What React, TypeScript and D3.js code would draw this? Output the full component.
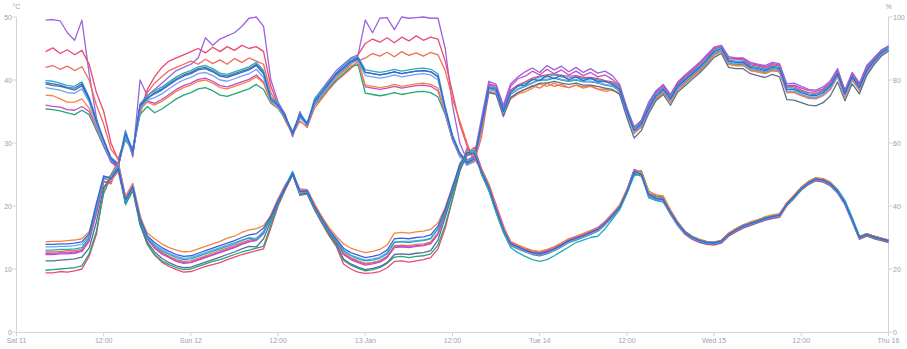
import React from 'react';
import * as d3 from 'd3';

// hourly samples from Sat 11 Jan 2020 04:00 to Thu 16 Jan 2020 00:00
const sampleCount = 117;
const firstSampleHour = 4;

const sensorNames = ['purple', 'pink', 'coral', 'green', 'magenta', 'orange', 'slate', 'lightblue', 'teal', 'blue'];
const sensorColors = ['#9d62df', '#ea4a6f', '#f26a5a', '#26a57a', '#c54ac9', '#f5853f', '#56718f', '#6aa6ee', '#1fb0b8', '#3a62e0'];

const xTickLabels = ['Sat 11', '12:00', 'Sun 12', '12:00', '13 Jan', '12:00', 'Tue 14', '12:00', 'Wed 15', '12:00', 'Thu 16'];
const leftTicks = [0, 10, 20, 30, 40, 50];
const rightTicks = [0, 20, 40, 60, 80, 100];

// Temperature (°C)
const tempBlue = [
  13.9, 13.9, 14.0, 14.0, 14.1, 14.3, 15.6, 20.5, 24.8, 24.3, 26.0, 21.0, 23.0, 18.0, 15.3,
  14.2, 13.4, 12.8, 12.3, 12.0, 12.1, 12.5, 12.9, 13.3, 13.7, 14.1, 14.5, 15.0, 15.4, 15.6, 16.5,
  18.3, 20.8, 23.0, 25.2, 22.3, 22.4, 20.0, 18.0, 16.2, 14.8, 13.3, 12.6, 12.2,
  11.8, 12.0, 12.3, 13.0, 14.8, 14.9, 14.8, 15.0, 15.1, 15.4, 16.8, 19.5, 23.0, 26.5, 28.5, 28.3, 25.5,
  23.0, 19.5, 16.3, 14.0, 13.5, 13.0, 12.6, 12.4, 12.7, 13.2, 13.8, 14.5, 14.9, 15.3, 15.8, 16.3, 17.3, 18.5, 19.8, 22.3, 25.5, 25.0, 21.8, 21.2, 21.0, 19.0, 17.2, 15.8,
  15.0, 14.5, 14.2, 14.1, 14.4, 15.5, 16.2, 16.8, 17.2, 17.6, 18.0, 18.3, 18.5, 20.3, 21.5, 22.8, 23.7, 24.3, 24.1, 23.5, 22.3, 20.5, 17.8, 15.0, 15.5, 15.1, 14.8, 14.5,
];
const tempOrange = [
  14.3, 14.4, 14.4, 14.5, 14.6, 14.8, 15.9, 20.0, 24.5, 24.0, 25.6, 21.3, 23.4, 18.3, 15.7,
  14.8, 14.0, 13.4, 13.0, 12.7, 12.8, 13.2, 13.6, 14.0, 14.4, 14.9, 15.2, 15.8, 16.2, 16.4, 16.9,
  18.5, 20.6, 22.8, 25.0, 22.6, 22.2, 20.3, 18.4, 16.6, 15.2, 14.0, 13.3, 12.9,
  12.6, 12.8, 13.1, 13.8, 15.7, 15.8, 15.7, 15.9, 16.0, 16.3, 17.3, 19.8, 23.2, 26.3, 28.8, 28.0, 25.8,
  23.4, 19.8, 16.6, 14.4, 13.8, 13.3, 12.9, 12.8, 13.1, 13.5, 14.1, 14.8, 15.2, 15.6, 16.1, 16.5, 17.5, 18.8, 20.2, 22.6, 25.2, 25.4, 22.3, 21.8, 21.6, 19.4, 17.5, 16.0,
  15.2, 14.7, 14.3, 14.2, 14.5, 15.7, 16.4, 17.0, 17.5, 17.8, 18.3, 18.6, 18.8, 20.5, 21.7, 23.0, 23.9, 24.4, 24.4, 23.8, 22.6, 20.8, 18.0, 15.2, 15.6, 15.2, 14.9, 14.6,
];
const tempLightBlue = [
  13.5, 13.5, 13.6, 13.6, 13.7, 13.9, 15.3, 20.2, 24.5, 24.6, 26.3, 20.8, 22.8, 18.0, 15.1,
  13.9, 13.1, 12.5, 12.0, 11.7, 11.8, 12.2, 12.6, 13.0, 13.4, 13.8, 14.2, 14.6, 15.0, 14.8, 16.0,
  18.2, 20.9, 23.2, 25.4, 22.0, 22.5, 19.8, 17.8, 16.0, 14.6, 13.0, 12.2, 11.8,
  11.4, 11.6, 11.9, 12.6, 14.3, 14.4, 14.4, 14.5, 14.6, 14.9, 16.4, 19.2, 22.8, 26.6, 28.3, 28.6, 25.3,
  22.8, 19.3, 16.1, 13.8, 13.3, 12.8, 12.4, 12.2, 12.5, 13.0, 13.6, 14.3, 14.7, 15.1, 15.6, 16.1, 17.1, 18.3, 19.6, 22.1, 25.6, 24.8, 21.6, 21.0, 20.8, 18.8, 17.0, 15.7,
  14.9, 14.4, 14.1, 14.0, 14.3, 15.4, 16.1, 16.7, 17.1, 17.5, 17.9, 18.2, 18.4, 20.1, 21.4, 22.7, 23.6, 24.2, 24.0, 23.4, 22.1, 20.3, 17.6, 14.9, 15.4, 15.0, 14.7, 14.4,
];
const tempTeal = [
  13.0, 13.0, 13.1, 13.1, 13.2, 13.4, 15.0, 19.8, 24.3, 24.8, 26.5, 20.6, 23.2, 17.8, 15.0,
  13.7, 12.9, 12.3, 11.8, 11.5, 11.6, 12.0, 12.4, 12.8, 13.2, 13.6, 14.0, 14.5, 14.9, 14.6, 15.8,
  18.0, 20.7, 23.1, 25.5, 22.4, 22.1, 19.9, 17.9, 16.1, 14.6, 12.9, 12.1, 11.6,
  11.3, 11.4, 11.7, 12.4, 14.2, 14.3, 14.2, 14.4, 14.5, 14.8, 16.3, 19.1, 22.6, 26.2, 28.4, 28.9, 25.2,
  22.6, 19.0, 15.8, 13.4, 12.6, 12.0, 11.5, 11.2, 11.5, 12.1, 12.8, 13.5, 14.2, 14.6, 15.0, 15.2, 16.4, 17.9, 19.4, 22.0, 24.8, 25.1, 21.3, 20.9, 20.6, 18.9, 17.3, 15.9,
  15.1, 14.6, 14.3, 14.2, 14.5, 15.4, 16.2, 16.9, 17.3, 17.7, 18.1, 18.4, 18.6, 20.2, 21.3, 22.6, 23.5, 24.1, 24.2, 23.6, 22.6, 20.9, 18.2, 15.2, 15.4, 15.0, 14.7, 14.4,
];
const tempCoral = [
  12.7, 12.7, 12.8, 12.9, 12.9, 13.1, 14.8, 19.0, 24.0, 23.5, 26.8, 21.5, 23.6, 18.6, 14.8,
  13.5, 12.7, 12.0, 11.5, 11.2, 11.3, 11.7, 12.1, 12.5, 12.9, 13.3, 13.7, 14.2, 14.6, 14.9, 15.9,
  18.6, 21.2, 23.4, 25.0, 22.7, 22.6, 20.4, 18.2, 16.3, 14.6, 12.6, 11.8, 11.3,
  10.9, 11.0, 11.3, 11.9, 13.7, 13.8, 13.7, 13.9, 14.0, 14.3, 15.7, 18.8, 22.7, 26.8, 28.2, 28.0, 25.9,
  23.3, 19.9, 16.6, 14.2, 13.6, 13.1, 12.7, 12.5, 12.8, 13.3, 13.9, 14.6, 15.0, 15.4, 15.9, 16.4, 17.4, 18.6, 20.0, 22.6, 25.7, 25.3, 22.0, 21.5, 21.3, 19.3, 17.4, 16.0,
  15.2, 14.7, 14.4, 14.3, 14.6, 15.7, 16.4, 17.0, 17.4, 17.8, 18.2, 18.5, 18.7, 20.5, 21.7, 23.0, 23.9, 24.5, 24.3, 23.7, 22.5, 20.6, 17.9, 15.1, 15.6, 15.2, 14.9, 14.6,
];
const tempPurple = [
  12.5, 12.4, 12.6, 12.6, 12.7, 12.9, 14.6, 19.5, 24.4, 24.0, 25.5, 20.4, 23.0, 17.6, 14.9,
  13.4, 12.5, 11.9, 11.3, 11.0, 11.1, 11.5, 11.9, 12.3, 12.7, 13.1, 13.5, 14.0, 14.4, 14.6, 15.8,
  18.1, 20.6, 22.9, 25.3, 22.0, 22.3, 19.8, 17.7, 15.9, 14.4, 12.4, 11.7, 11.2,
  10.8, 11.0, 11.3, 12.0, 13.5, 13.6, 13.5, 13.7, 13.8, 14.1, 15.6, 18.9, 22.5, 26.0, 29.2, 27.6, 25.6,
  23.1, 19.7, 16.5, 14.3, 13.7, 13.2, 12.8, 12.6, 12.9, 13.4, 14.0, 14.7, 15.1, 15.5, 16.0, 16.5, 17.5, 18.7, 20.0, 22.5, 25.7, 25.2, 22.0, 21.3, 21.1, 19.1, 17.3, 15.9,
  15.1, 14.6, 14.3, 14.2, 14.5, 15.6, 16.3, 16.9, 17.3, 17.7, 18.1, 18.4, 18.6, 20.4, 21.6, 22.9, 23.8, 24.4, 24.2, 23.6, 22.4, 20.6, 17.9, 15.1, 15.6, 15.2, 14.9, 14.6,
];
const tempMagenta = [
  12.3, 12.3, 12.4, 12.4, 12.5, 12.8, 14.4, 18.8, 23.8, 23.8, 26.2, 21.0, 22.6, 17.9, 14.8,
  13.3, 12.4, 11.8, 11.2, 10.9, 11.0, 11.4, 11.8, 12.2, 12.6, 13.0, 13.4, 13.9, 14.3, 14.5, 15.6,
  18.2, 20.9, 23.1, 25.1, 22.2, 22.5, 20.1, 17.9, 16.0, 14.5, 12.3, 11.5, 11.0,
  10.6, 10.8, 11.1, 11.8, 13.4, 13.5, 13.4, 13.6, 13.7, 14.0, 15.5, 18.7, 22.4, 26.3, 28.6, 28.4, 25.7,
  23.3, 19.8, 16.6, 14.3, 13.8, 13.3, 12.9, 12.7, 13.0, 13.5, 14.1, 14.8, 15.2, 15.6, 16.1, 16.6, 17.6, 18.8, 20.1, 22.6, 25.6, 25.1, 21.9, 21.2, 21.0, 19.0, 17.2, 15.8,
  15.0, 14.6, 14.3, 14.2, 14.4, 15.6, 16.3, 16.8, 17.3, 17.6, 18.1, 18.3, 18.6, 20.3, 21.6, 22.8, 23.8, 24.3, 24.2, 23.5, 22.3, 20.5, 17.8, 15.1, 15.5, 15.1, 14.8, 14.5,
];
const tempSlate = [
  11.3, 11.3, 11.4, 11.5, 11.6, 11.9, 13.3, 17.5, 23.0, 24.5, 25.8, 20.5, 22.7, 17.3, 14.3,
  12.7, 11.7, 11.0, 10.5, 10.2, 10.3, 10.7, 11.1, 11.5, 11.9, 12.3, 12.7, 13.2, 13.6, 13.5, 14.8,
  17.6, 20.5, 22.8, 25.0, 21.9, 22.0, 19.6, 17.6, 15.7, 14.1, 11.6, 10.8, 10.3,
  9.9, 10.1, 10.4, 11.0, 12.3, 12.4, 12.3, 12.5, 12.6, 12.9, 14.6, 18.2, 22.0, 25.8, 28.0, 28.5, 25.1,
  22.6, 19.1, 16.0, 13.7, 13.2, 12.7, 12.3, 12.1, 12.4, 12.9, 13.5, 14.2, 14.6, 15.0, 15.5, 16.0, 17.0, 18.2, 19.5, 22.0, 25.2, 24.7, 21.5, 20.9, 20.7, 18.7, 16.9, 15.6,
  14.8, 14.3, 14.0, 13.9, 14.2, 15.3, 16.0, 16.6, 17.0, 17.4, 17.8, 18.1, 18.3, 20.1, 21.3, 22.6, 23.5, 24.1, 23.9, 23.3, 22.1, 20.3, 17.6, 14.8, 15.3, 14.9, 14.6, 14.3,
];
const tempGreen = [
  9.8, 9.9, 10.0, 10.1, 10.2, 10.5, 12.4, 16.0, 22.0, 24.6, 26.4, 20.2, 22.4, 17.0, 14.0,
  12.3, 11.3, 10.7, 10.2, 9.9, 10.0, 10.4, 10.8, 11.2, 11.5, 11.9, 12.3, 12.7, 13.0, 13.3, 13.6,
  17.0, 20.3, 22.7, 25.0, 21.8, 22.0, 19.5, 17.4, 15.5, 13.8, 11.4, 10.6, 10.1,
  9.7, 9.9, 10.2, 10.9, 11.9, 12.0, 11.8, 12.0, 12.1, 12.4, 13.8, 17.0, 21.2, 25.6, 28.2, 28.7, 25.0,
  22.4, 19.0, 15.9, 13.9, 13.4, 12.9, 12.5, 12.3, 12.6, 13.1, 13.7, 14.4, 14.8, 15.2, 15.7, 16.2, 17.2, 18.4, 19.8, 22.4, 25.3, 25.6, 22.4, 21.6, 21.4, 19.2, 17.3, 15.9,
  15.1, 14.6, 14.3, 14.2, 14.5, 15.6, 16.3, 16.9, 17.3, 17.7, 18.1, 18.4, 18.6, 20.4, 21.6, 22.9, 23.8, 24.4, 24.2, 23.6, 22.4, 20.6, 17.9, 15.1, 15.6, 15.2, 14.9, 14.6,
];
const tempPink = [
  9.4, 9.4, 9.6, 9.5, 9.7, 10.0, 12.0, 15.5, 22.5, 25.0, 27.0, 21.4, 23.2, 17.2, 13.9,
  12.2, 11.1, 10.4, 9.9, 9.5, 9.6, 10.0, 10.4, 10.7, 11.0, 11.5, 11.9, 12.3, 12.6, 12.9, 13.2,
  16.5, 20.0, 22.6, 25.0, 21.7, 21.9, 19.4, 17.3, 15.3, 13.6, 10.8, 10.0, 9.5,
  9.3, 9.4, 9.6, 10.2, 11.2, 11.3, 11.1, 11.3, 11.5, 11.8, 13.2, 16.5, 21.0, 25.5, 28.4, 29.3, 25.9,
  23.5, 20.2, 16.9, 14.1, 13.6, 13.1, 12.7, 12.5, 12.8, 13.3, 13.9, 14.6, 15.0, 15.4, 15.9, 16.4, 17.4, 18.6, 19.9, 22.4, 25.8, 25.3, 21.9, 21.0, 20.8, 18.7, 16.9, 15.5,
  14.7, 14.2, 13.9, 13.8, 14.1, 15.2, 15.9, 16.5, 16.9, 17.3, 17.7, 18.0, 18.2, 20.0, 21.2, 22.5, 23.4, 24.0, 23.8, 23.2, 22.0, 20.2, 17.5, 14.7, 15.2, 14.8, 14.5, 14.2,
];

// Relative humidity (%)
const humBlue = [
  79.2, 78.8, 78.4, 77.6, 77.4, 78.8, 74.0, 67.0, 61.0, 55.0, 53.0, 63.0, 57.0, 72.0, 74.4,
  75.6, 76.8, 78.4, 80.0, 81.2, 82.0, 83.2, 83.6, 82.6, 81.2, 80.8, 81.6, 82.4, 83.2, 84.6, 82.0,
  74.0, 72.0, 68.6, 63.0, 69.0, 66.0, 73.0, 76.0, 79.0, 82.0, 84.0, 86.0, 87.0,
  82.4, 82.0, 81.6, 82.0, 82.6, 82.0, 82.4, 82.8, 83.0, 82.6, 81.2, 71.0, 62.0, 56.6, 53.6, 55.0, 66.0,
  77.6, 77.0, 70.0, 76.0, 78.2, 78.4, 80.2, 79.8, 81.4, 80.4, 81.6, 80.0, 81.0, 79.8, 80.6, 79.4, 79.6, 78.6, 77.0, 70.0, 64.0, 66.0, 71.0, 75.0, 77.0, 74.0, 78.0, 80.0,
  82.0, 84.0, 86.4, 89.0, 90.0, 86.0, 85.6, 85.6, 84.0, 83.6, 83.0, 84.0, 83.6, 77.0, 77.0, 76.0, 75.2, 75.0, 76.0, 78.0, 82.0, 75.6, 81.0, 77.6, 83.0, 86.0, 88.6, 90.0,
];
const humTeal = [
  79.8, 79.6, 79.0, 78.2, 78.0, 79.4, 74.5, 67.5, 61.0, 55.5, 53.5, 63.6, 57.6, 72.4, 75.0,
  76.6, 77.8, 79.4, 81.0, 82.2, 83.0, 84.2, 84.6, 83.6, 82.2, 81.8, 82.6, 83.4, 84.2, 85.6, 83.0,
  74.6, 72.4, 68.0, 63.6, 69.4, 66.4, 73.6, 76.6, 79.4, 82.2, 84.6, 86.6, 87.4,
  83.2, 82.8, 82.4, 82.8, 83.4, 82.8, 83.2, 83.6, 83.8, 83.4, 82.0, 71.5, 62.5, 57.0, 54.0, 55.6, 66.4,
  78.0, 77.4, 70.6, 76.4, 78.0, 79.0, 80.0, 81.0, 81.0, 81.6, 81.0, 80.6, 81.0, 80.4, 80.4, 80.0, 79.4, 79.0, 77.4, 70.6, 64.6, 66.6, 71.6, 75.6, 77.4, 74.6, 78.4, 80.4,
  82.4, 84.4, 86.8, 89.4, 90.4, 86.4, 86.0, 86.0, 84.4, 84.0, 83.4, 84.4, 84.0, 77.6, 77.4, 76.4, 75.6, 75.4, 76.4, 78.4, 82.4, 76.0, 81.4, 78.0, 83.4, 86.4, 89.0, 90.4,
];
const humPurple = [
  99.0, 99.2, 98.8, 95.0, 92.6, 99.0, 82.0, 68.0, 59.0, 54.0, 52.0, 64.0, 55.6, 80.0, 75.0,
  77.0, 79.0, 81.0, 83.0, 84.0, 85.0, 87.0, 93.4, 91.0, 93.0, 94.0, 95.0, 97.0, 99.6, 100.0, 97.0,
  80.0, 73.0, 69.0, 62.0, 70.0, 65.0, 74.0, 77.0, 80.0, 83.0, 85.0, 87.0, 88.0,
  99.0, 95.0, 99.6, 99.8, 96.0, 100.0, 99.6, 99.8, 100.0, 99.6, 99.6, 90.0, 72.0, 60.0, 54.5, 56.0, 68.0,
  79.6, 78.6, 72.0, 78.8, 81.0, 82.6, 83.8, 82.4, 84.6, 83.2, 84.4, 82.6, 84.0, 82.4, 83.6, 82.2, 82.8, 81.4, 78.6, 71.0, 63.0, 67.4, 73.0, 76.6, 78.6, 75.4, 79.4, 81.6,
  83.6, 85.6, 88.0, 90.4, 91.0, 87.4, 87.0, 87.0, 85.6, 85.0, 84.6, 85.6, 85.2, 78.8, 79.0, 78.0, 77.0, 76.8, 77.8, 79.8, 83.6, 76.4, 82.4, 79.0, 84.6, 87.0, 89.4, 90.8,
];
const humPink = [
  89.0, 90.2, 88.4, 89.6, 88.0, 89.4, 85.0, 76.0, 70.0, 60.0, 54.6, 62.0, 58.0, 70.0, 77.0,
  81.0, 84.0, 86.0, 87.0, 88.0, 89.0, 90.0, 88.6, 90.4, 89.0, 90.6, 89.4, 91.0, 90.0, 90.6, 89.0,
  78.0, 72.0, 68.0, 63.6, 68.0, 66.6, 72.0, 75.0, 78.0, 81.0, 83.0, 85.0, 88.0,
  91.6, 93.0, 92.0, 93.4, 91.8, 93.6, 92.4, 94.0, 92.6, 93.6, 93.0, 86.0, 76.0, 66.0, 59.0, 55.0, 64.0,
  78.6, 77.6, 70.6, 76.8, 78.4, 79.4, 80.6, 81.2, 81.6, 82.0, 81.4, 81.2, 81.4, 80.8, 80.8, 80.4, 79.8, 79.4, 77.8, 70.6, 64.6, 66.8, 71.8, 75.8, 77.6, 75.0, 78.8, 80.8,
  82.8, 84.8, 87.0, 89.8, 90.6, 86.8, 86.6, 86.4, 84.8, 84.4, 83.8, 84.8, 84.4, 77.8, 78.0, 76.8, 76.0, 75.8, 76.8, 78.8, 82.8, 76.4, 81.8, 78.4, 83.8, 86.8, 89.4, 90.6,
];
const humCoral = [
  84.0, 84.6, 83.4, 84.4, 83.0, 84.2, 80.0, 72.0, 66.0, 58.0, 55.0, 61.6, 58.4, 69.0, 76.0,
  79.0, 81.0, 83.0, 84.0, 85.0, 86.0, 85.0, 86.6, 85.2, 86.4, 85.0, 86.8, 85.6, 87.0, 86.0, 85.0,
  76.0, 72.0, 67.0, 62.6, 67.0, 65.0, 71.0, 74.0, 77.0, 79.6, 81.6, 83.6, 86.0,
  87.0, 88.4, 87.6, 88.8, 87.4, 89.0, 87.8, 88.6, 87.6, 88.8, 88.0, 83.0, 74.0, 67.0, 60.0, 54.0, 62.0,
  76.0, 76.0, 69.6, 74.2, 76.0, 77.0, 78.2, 77.4, 79.0, 78.0, 78.6, 77.6, 78.4, 77.8, 78.2, 77.2, 77.0, 76.6, 76.0, 69.0, 63.6, 65.0, 70.0, 74.0, 76.0, 73.0, 77.0, 79.0,
  81.0, 83.0, 85.4, 88.0, 89.0, 85.0, 84.6, 84.6, 83.0, 82.6, 82.0, 83.0, 82.6, 76.0, 76.0, 75.0, 74.2, 74.0, 75.0, 77.0, 81.0, 74.6, 80.0, 76.6, 82.0, 85.0, 87.6, 89.2,
];
const humSlate = [
  78.8, 78.2, 78.0, 77.4, 76.8, 78.2, 73.5, 66.5, 60.5, 54.5, 52.6, 62.6, 56.4, 71.5, 74.0,
  76.0, 77.2, 78.8, 80.4, 81.6, 82.4, 83.6, 84.0, 83.0, 81.6, 81.2, 82.0, 82.8, 83.6, 85.0, 82.4,
  73.6, 71.6, 68.2, 62.6, 68.6, 65.6, 72.6, 75.6, 78.6, 81.6, 83.6, 85.6, 86.6,
  82.4, 82.0, 81.6, 82.0, 82.6, 82.0, 82.4, 82.8, 83.0, 82.6, 81.0, 71.0, 62.0, 56.5, 53.6, 54.6, 65.6,
  76.0, 75.4, 68.4, 74.4, 76.0, 77.0, 78.0, 79.0, 79.0, 79.6, 79.0, 78.6, 79.0, 78.4, 78.4, 78.0, 77.4, 77.0, 75.4, 68.0, 61.6, 64.0, 69.4, 73.4, 75.4, 72.0, 76.2, 78.2,
  80.2, 82.2, 84.6, 87.2, 88.4, 84.0, 83.6, 83.6, 82.0, 81.4, 80.8, 81.8, 81.0, 73.8, 73.6, 72.8, 72.0, 71.8, 72.8, 75.0, 79.4, 73.4, 78.8, 75.6, 81.4, 84.8, 87.6, 89.2,
];
const humLightBlue = [
  77.6, 77.2, 76.8, 76.0, 75.8, 77.2, 73.0, 66.0, 60.0, 54.5, 53.0, 62.0, 56.6, 71.0, 73.6,
  74.4, 75.6, 77.2, 78.8, 80.0, 80.8, 82.0, 82.4, 81.4, 80.0, 79.6, 80.4, 81.2, 82.0, 83.4, 80.8,
  73.6, 71.4, 68.0, 62.8, 68.4, 65.6, 72.4, 75.4, 78.2, 81.2, 83.2, 85.2, 86.2,
  81.4, 81.0, 80.6, 81.0, 81.6, 81.0, 81.4, 81.8, 82.0, 81.6, 80.0, 70.5, 61.5, 56.0, 53.0, 54.5, 65.4,
  77.2, 76.6, 69.6, 75.6, 77.2, 78.2, 79.2, 80.2, 80.2, 80.8, 80.2, 79.8, 80.2, 79.6, 79.6, 79.2, 78.6, 78.2, 76.6, 69.6, 63.6, 65.6, 70.6, 74.6, 76.6, 73.6, 77.6, 79.6,
  81.6, 83.6, 86.0, 88.6, 89.6, 85.6, 85.2, 85.2, 83.6, 83.2, 82.6, 83.6, 83.2, 76.4, 76.4, 75.4, 74.6, 74.4, 75.4, 77.4, 81.6, 75.2, 80.6, 77.2, 82.6, 85.6, 88.2, 89.6,
];
const humOrange = [
  75.2, 75.0, 74.0, 73.0, 73.0, 74.0, 71.0, 65.5, 60.0, 55.0, 52.6, 62.0, 57.0, 70.5, 73.0,
  72.0, 73.2, 74.8, 76.4, 77.6, 78.4, 79.6, 80.0, 79.0, 77.6, 77.2, 78.0, 78.8, 79.6, 81.0, 79.0,
  73.0, 71.0, 68.0, 63.4, 68.4, 66.0, 72.4, 75.0, 78.0, 80.6, 82.6, 84.4, 85.6,
  78.4, 78.0, 77.6, 78.0, 78.6, 78.0, 78.4, 78.8, 79.0, 78.6, 77.4, 70.0, 61.5, 56.0, 53.0, 54.0, 65.0,
  76.4, 75.8, 69.0, 74.0, 75.6, 76.2, 77.4, 78.8, 78.0, 79.0, 78.0, 77.6, 78.4, 77.4, 78.0, 77.0, 76.4, 76.8, 75.8, 69.0, 63.0, 65.0, 70.0, 74.0, 76.0, 73.0, 76.8, 78.8,
  80.8, 82.8, 85.2, 87.8, 89.0, 85.0, 84.6, 84.6, 83.0, 82.6, 82.0, 83.0, 82.6, 76.0, 76.2, 75.2, 74.4, 74.2, 75.2, 77.2, 81.2, 74.8, 80.2, 76.8, 82.2, 85.2, 88.0, 89.4,
];
const humMagenta = [
  72.0, 71.6, 71.4, 70.6, 70.4, 71.6, 70.0, 65.0, 59.5, 54.0, 52.5, 63.0, 56.0, 71.6, 73.4,
  72.6, 73.8, 75.4, 77.0, 78.2, 79.0, 80.2, 80.6, 79.6, 78.2, 77.8, 78.6, 79.4, 80.2, 81.6, 79.4,
  73.4, 71.6, 68.4, 62.8, 69.2, 65.8, 73.2, 75.8, 78.6, 81.4, 83.4, 85.4, 86.6,
  77.8, 77.4, 77.0, 77.4, 78.0, 77.4, 77.8, 78.2, 78.4, 78.0, 76.6, 69.5, 61.0, 55.6, 53.6, 56.0, 66.6,
  78.8, 78.2, 71.2, 78.0, 80.4, 81.2, 82.8, 81.6, 83.4, 82.0, 83.2, 81.6, 82.8, 81.4, 82.4, 81.0, 81.6, 80.2, 78.2, 71.2, 65.2, 67.2, 72.2, 76.2, 78.2, 75.2, 79.2, 81.2,
  83.2, 85.2, 87.6, 90.2, 91.0, 87.0, 86.8, 86.8, 85.2, 84.8, 84.2, 85.2, 84.8, 78.2, 78.4, 77.4, 76.6, 76.4, 77.2, 79.2, 83.0, 76.8, 82.2, 78.8, 84.0, 87.0, 89.4, 90.8,
];
const humGreen = [
  70.8, 70.6, 70.2, 69.6, 69.0, 70.4, 69.0, 64.0, 59.0, 54.5, 53.5, 61.0, 57.5, 69.0, 71.6,
  69.6, 70.8, 72.4, 74.0, 75.2, 76.0, 77.2, 77.6, 76.6, 75.2, 74.8, 75.6, 76.4, 77.2, 78.6, 77.0,
  72.6, 71.0, 67.6, 63.2, 68.0, 65.8, 72.0, 74.6, 77.4, 80.0, 82.0, 84.0, 85.0,
  75.8, 75.4, 75.0, 75.4, 76.0, 75.4, 75.8, 76.2, 76.4, 76.0, 74.6, 69.0, 61.0, 56.0, 53.0, 54.4, 64.6,
  77.0, 76.4, 69.4, 75.4, 77.0, 78.0, 79.0, 80.0, 80.0, 80.6, 80.0, 79.6, 80.0, 79.4, 79.4, 79.0, 78.4, 78.0, 76.4, 69.4, 63.4, 65.4, 70.4, 74.4, 76.4, 73.4, 77.4, 79.4,
  81.4, 83.4, 85.8, 88.4, 89.4, 85.4, 85.0, 85.0, 83.4, 83.0, 82.4, 83.4, 83.0, 76.4, 76.4, 75.4, 74.6, 74.4, 75.4, 77.4, 81.4, 75.0, 80.4, 77.0, 82.4, 85.4, 88.0, 89.4,
];

const tempSeries = [tempPurple, tempPink, tempCoral, tempGreen, tempMagenta, tempOrange, tempSlate, tempLightBlue, tempTeal, tempBlue];
const humSeries = [humPurple, humPink, humCoral, humGreen, humMagenta, humOrange, humSlate, humLightBlue, humTeal, humBlue];

const W = 907;
const H = 349;
const M = { left: 16.5, right: 888.5, top: 17, bottom: 332 };
const FONT = '"Liberation Sans", Arial, sans-serif';
const AXIS = '#ccd6e0';
const LABEL = '#9aa1aa';

export default function App() {
  const t0 = new Date(2020, 0, 11, 0);
  const t1 = new Date(2020, 0, 16, 0);
  const x = d3.scaleTime().domain([t0, t1]).range([M.left, M.right]);
  const yL = d3.scaleLinear().domain([0, 50]).range([M.bottom, M.top]);
  const yR = d3.scaleLinear().domain([0, 100]).range([M.bottom, M.top]);
  const times = d3.range(sampleCount).map((i) => new Date(2020, 0, 11, firstSampleHour + i));
  const xTicks = d3.timeHour.every(12)!.range(t0, new Date(2020, 0, 16, 1));

  const lineT = d3.line<number>().x((_, i) => x(times[i])).y((d) => yL(d));
  const lineH = d3.line<number>().x((_, i) => x(times[i])).y((d) => yR(d));

  return (
    <svg width={W} height={H} style={{ position: 'absolute', left: 0, top: 0, background: '#fff' }} fontFamily={FONT}>
      <rect width={W} height={H} fill="#fff" />
      <line x1={M.left} x2={M.left} y1={M.top} y2={M.bottom} stroke={AXIS} />
      <line x1={M.right} x2={M.right} y1={M.top} y2={M.bottom} stroke={AXIS} />
      <line x1={M.left} x2={M.right} y1={M.bottom + 0.5} y2={M.bottom + 0.5} stroke={AXIS} />
      {leftTicks.map((v) => (
        <g key={'l' + v}>
          <line x1={M.left - 4} x2={M.left} y1={yL(v)} y2={yL(v)} stroke={AXIS} />
          <text x={M.left - 4.5} y={yL(v) + 2.5} fontSize={7} fill={LABEL} textAnchor="end">{v}</text>
        </g>
      ))}
      {rightTicks.map((v) => (
        <g key={'r' + v}>
          <line x1={M.right} x2={M.right + 4} y1={yR(v)} y2={yR(v)} stroke={AXIS} />
          <text x={M.right + 4.5} y={yR(v) + 2.5} fontSize={7} fill={LABEL} textAnchor="start">{v}</text>
        </g>
      ))}
      {xTicks.map((d, i) => (
        <g key={'x' + i}>
          <line x1={x(d)} x2={x(d)} y1={M.bottom} y2={M.bottom + 4} stroke={AXIS} />
          <text x={x(d)} y={M.bottom + 11} fontSize={7} fill={LABEL} textAnchor="middle">{xTickLabels[i]}</text>
        </g>
      ))}
      <text x={M.left} y={9} fontSize={7} fill={LABEL} textAnchor="middle">°C</text>
      <text x={M.right} y={9} fontSize={7} fill={LABEL} textAnchor="middle">%</text>
      <g fill="none" strokeWidth={1.3} strokeLinejoin="round">
        {humSeries.map((s, i) => (
          <path key={'h' + sensorNames[i]} d={lineH(s) || ''} stroke={sensorColors[i]} />
        ))}
        {tempSeries.map((s, i) => (
          <path key={'t' + sensorNames[i]} d={lineT(s) || ''} stroke={sensorColors[i]} />
        ))}
      </g>
    </svg>
  );
}
